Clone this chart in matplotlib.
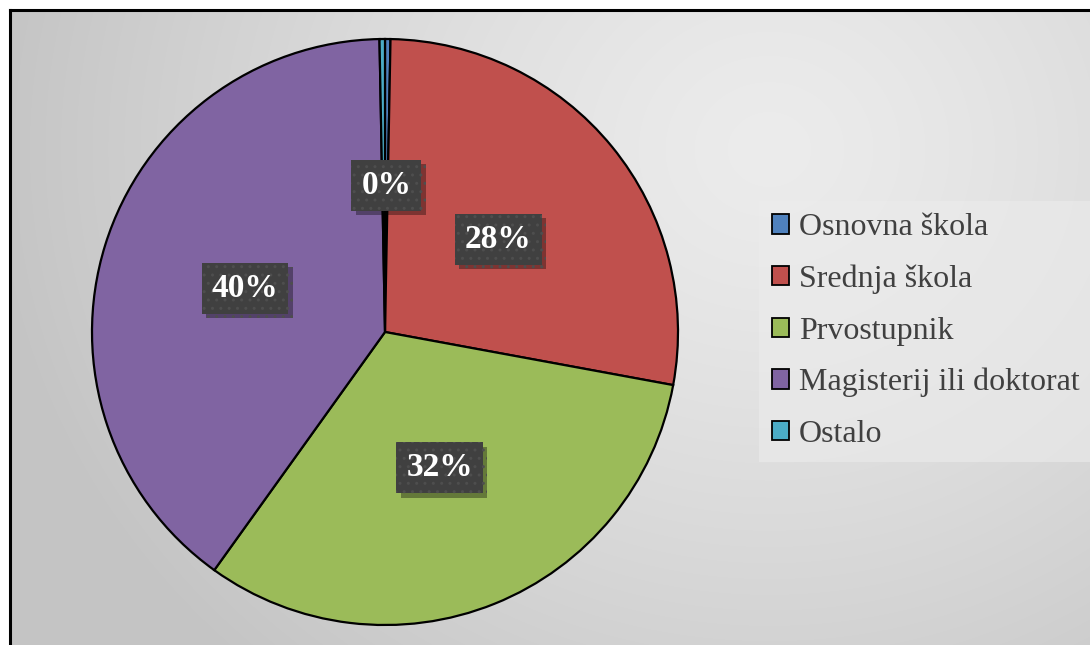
import numpy as np
import matplotlib
matplotlib.use('Agg')
import matplotlib.pyplot as plt
from matplotlib.lines import Line2D
from matplotlib.patches import Patch
import matplotlib.patheffects as pe

# ---------- podaci ----------
kategorije = ['Osnovna škola', 'Srednja škola', 'Prvostupnik',
              'Magisterij ili doktorat', 'Ostalo']
udjeli = [0.3, 27.6, 32.0, 39.8, 0.3]
boje = ['#4F81BD', '#C0504D', '#9BBB59', '#8064A2', '#4BACC6']

plt.rcParams['font.family'] = ['Liberation Serif', 'DejaVu Serif']

W, H = 1090, 645
fig = plt.figure(figsize=(W / 100, H / 100), dpi=100)
fig.patch.set_facecolor('white')

# ---------- pozadina (radijalni gradijent) ----------
bg = fig.add_axes([9 / W, 0, 1 - 9 / W, 1 - 9 / H], zorder=-5)
yy, xx = np.mgrid[0:H - 9, 0:W - 9]
d = np.sqrt(((xx - 760) / 1.0) ** 2 + ((yy - 140) / 0.9) ** 2)
g = 0.925 - 0.155 * np.clip(d / 780, 0, 1) ** 1.3
bg.imshow(np.dstack([g, g, g]), aspect='auto', extent=[0, 1, 0, 1], origin='upper')
bg.set_axis_off()

# okvir: lijeva i gornja linija
fig.add_artist(Line2D([9.5 / W, 9.5 / W], [0, 1 - 9.5 / H], color='black', lw=2.2,
                      transform=fig.transFigure))
fig.add_artist(Line2D([9.5 / W, 1], [1 - 9.5 / H, 1 - 9.5 / H], color='black', lw=2.2,
                      transform=fig.transFigure))

# ---------- pita ----------
cx, cy, r = 385, 332, 293
ax = fig.add_axes([(cx - r) / W, (H - cy - r) / H, 2 * r / W, 2 * r / H])
wedges, _ = ax.pie(udjeli, colors=boje, startangle=90, counterclock=False,
                   wedgeprops=dict(edgecolor='black', linewidth=1.6))
ax.set_xlim(-1, 1)
ax.set_ylim(-1, 1)
ax.set_aspect('equal')
ax.set_axis_off()

# oznake postotaka (zadnja mala kriška se preklapa s prvom pa se ne crta)
for w, v in zip(wedges[:-1], udjeli[:-1]):
    kut = np.deg2rad((w.theta1 + w.theta2) / 2)
    t = ax.text(0.5 * np.cos(kut), 0.5 * np.sin(kut), f'{round(v):.0f}%',
                ha='center', va='center', color='white', fontsize=24,
                fontweight='bold', zorder=5,
                bbox=dict(boxstyle='square,pad=0.3', facecolor='#404040',
                          edgecolor='#4e4e4e', linewidth=0, hatch='..'))
    t.get_bbox_patch().set_path_effects([
        pe.SimplePatchShadow(offset=(3, -3), shadow_rgbFace='black', alpha=0.35),
        pe.Normal()])

# ---------- legenda ----------
ruke = [Patch(facecolor=c, edgecolor='black', linewidth=1.3) for c in boje]
leg = fig.legend(ruke, kategorije, loc='center left',
                 bbox_to_anchor=(759 / W, (H - 331) / H), fontsize=23,
                 frameon=True, fancybox=False, handlelength=0.55,
                 handleheight=0.55, handletextpad=0.3, labelspacing=0.7,
                 borderpad=0.4, borderaxespad=0)
leg.get_frame().set_facecolor('#ececec')
leg.get_frame().set_alpha(0.6)
leg.get_frame().set_linewidth(0)
for tx in leg.get_texts():
    tx.set_color('#404040')

fig.savefig('out.png', dpi=100)
